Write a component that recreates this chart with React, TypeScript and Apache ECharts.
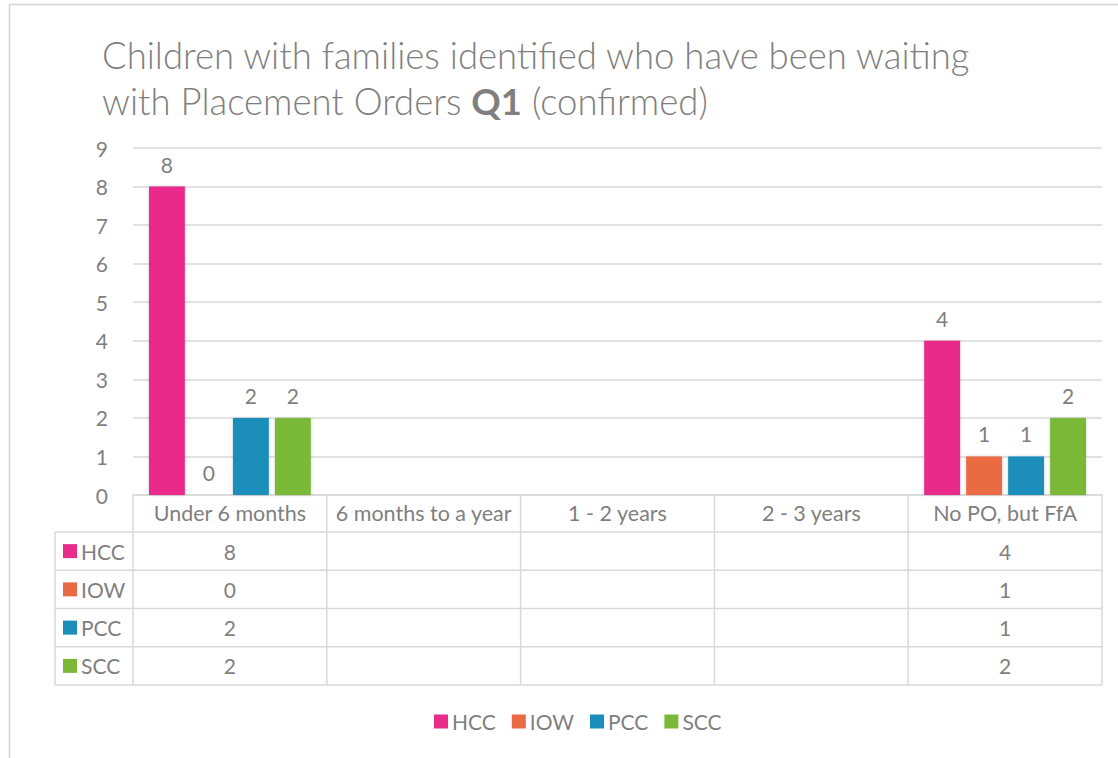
import React, { useEffect, useRef } from "react";
import * as echarts from "echarts";

const categories = ["Under 6 months", "6 months to a year", "1 - 2 years", "2 - 3 years", "No PO, but FfA"];
const seriesNames = ["HCC", "IOW", "PCC", "SCC"];
const hccValues = [8, null, null, null, 4];
const iowValues = [0, null, null, null, 1];
const pccValues = [2, null, null, null, 1];
const sccValues = [2, null, null, null, 2];
const seriesColors = ["#E92C8A", "#EA6A43", "#1C8EBB", "#7AB838"];
const yMin = 0;
const yMax = 9;
const yInterval = 1;

const seriesValues = [hccValues, iowValues, pccValues, sccValues];

const FONT = "Lato, 'Open Sans', sans-serif";
const GRAY = "#7f7f7f";
const LINE = "#d9d9d9";
const FS = 21;

export default function App() {
  const ref = useRef<HTMLDivElement>(null);

  useEffect(() => {
    if (!ref.current) return;
    const chart = echarts.init(ref.current, null, { renderer: "svg" });

    const plotLeft = 133;
    const plotRight = 1102;
    const axisY = 495;
    const headerBottom = 532;
    const rowH = 38.25;
    const tableLeft = 55;
    const colW = (plotRight - plotLeft) / categories.length;
    const tableBottom = headerBottom + rowH * seriesNames.length;

    const graphics: any[] = [];
    graphics.push({
      type: "rect",
      shape: { x: 9.5, y: 4.5, width: 1200, height: 1000 },
      style: { fill: "none", stroke: "#d4d4d4", lineWidth: 1.5 },
      silent: true,
    });
    for (let i = 0; i <= seriesNames.length; i++) {
      const y = headerBottom + i * rowH;
      graphics.push({
        type: "line",
        shape: { x1: tableLeft, y1: y, x2: plotRight, y2: y },
        style: { stroke: LINE, lineWidth: 1.5 },
        silent: true,
      });
    }
    graphics.push({
      type: "line",
      shape: { x1: tableLeft, y1: headerBottom, x2: tableLeft, y2: tableBottom },
      style: { stroke: LINE, lineWidth: 1.5 },
      silent: true,
    });
    for (let k = 0; k <= categories.length; k++) {
      const x = plotLeft + k * colW;
      graphics.push({
        type: "line",
        shape: { x1: x, y1: axisY, x2: x, y2: tableBottom },
        style: { stroke: LINE, lineWidth: 1.5 },
        silent: true,
      });
    }
    seriesNames.forEach((name, i) => {
      const cy = headerBottom + i * rowH + rowH / 2;
      graphics.push({
        type: "rect",
        shape: { x: 63, y: cy - 7, width: 14, height: 14 },
        style: { fill: seriesColors[i] },
        silent: true,
      });
      graphics.push({
        type: "text",
        x: 81,
        y: cy,
        style: {
          text: name,
          fill: GRAY,
          font: `${FS}px ${FONT}`,
          verticalAlign: "middle",
          align: "left",
        },
        silent: true,
      });
      seriesValues[i].forEach((v, c) => {
        if (v === null || v === undefined) return;
        graphics.push({
          type: "text",
          x: plotLeft + c * colW + colW / 2,
          y: cy,
          style: {
            text: String(v),
            fill: GRAY,
            font: `${FS}px ${FONT}`,
            verticalAlign: "middle",
            align: "center",
          },
          silent: true,
        });
      });
    });

    chart.setOption({
      animation: false,
      backgroundColor: "#ffffff",
      title: {
        text: "Children with families identified who have been waiting\nwith Placement Orders {b|Q1} (confirmed)",
        left: 97,
        top: 27,
        textStyle: {
          color: GRAY,
          fontFamily: FONT,
          fontSize: 36.5,
          fontWeight: 300,
          lineHeight: 46,
          rich: {
            b: { fontWeight: "bold", fontSize: 36.5, color: GRAY, fontFamily: FONT, lineHeight: 46 },
          },
        },
      },
      legend: {
        data: seriesNames,
        left: 429,
        top: 706,
        icon: "rect",
        itemWidth: 14,
        itemHeight: 14,
        itemGap: 16,
        textStyle: { color: GRAY, fontSize: FS, fontFamily: FONT, padding: [0, 0, 0, -1] },
      },
      grid: { left: plotLeft, right: 1118 - plotRight, top: 148, bottom: 758 - axisY },
      xAxis: {
        type: "category",
        data: categories,
        axisLine: { show: true, lineStyle: { color: LINE, width: 1.5 } },
        axisTick: { show: false },
        axisLabel: { color: GRAY, fontSize: 21.5, fontFamily: FONT, margin: 7, interval: 0 },
      },
      yAxis: {
        type: "value",
        min: yMin,
        max: yMax,
        interval: yInterval,
        axisLine: { show: false },
        axisTick: { show: false },
        splitLine: { lineStyle: { color: LINE, width: 1.5 } },
        axisLabel: { color: GRAY, fontSize: FS, fontFamily: FONT, margin: 25 },
      },
      series: seriesNames.map((name, i) => ({
        name,
        type: "bar",
        data: seriesValues[i],
        barGap: "17%",
        barCategoryGap: "16.5%",
        itemStyle: { color: seriesColors[i], shadowColor: "rgba(0,0,0,0.2)", shadowBlur: 3 },
        label: {
          show: true,
          position: "top",
          distance: 12,
          color: GRAY,
          fontSize: FS,
          fontFamily: FONT,
        },
      })),
      graphic: graphics,
    });

    return () => chart.dispose();
  }, []);

  return (
    <div
      ref={ref}
      style={{ position: "fixed", left: 0, top: 0, width: 1118, height: 758 }}
    />
  );
}
